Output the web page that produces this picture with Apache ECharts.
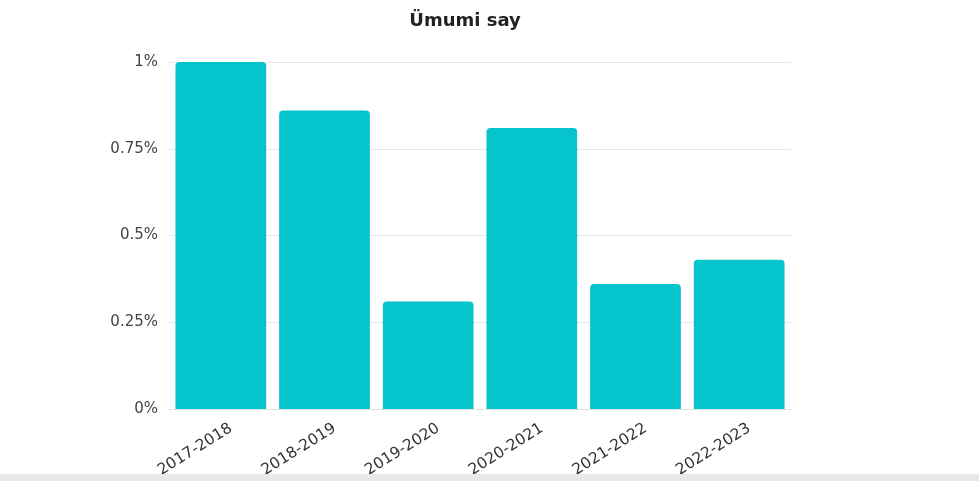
<!DOCTYPE html>
<html><head><meta charset="utf-8">
<script src="https://cdn.jsdelivr.net/npm/echarts@6/dist/echarts.min.js"></script>
<style>html,body{margin:0;padding:0;background:#fff}#c{width:979px;height:481px}</style>
</head><body><div id="c"></div>
<script>
const categories = ['2017-2018','2018-2019','2019-2020','2020-2021','2021-2022','2022-2023'];
const values = [1.0, 0.86, 0.31, 0.81, 0.36, 0.43];
const yTicks = [0, 0.25, 0.5, 0.75, 1];
const chart = echarts.init(document.getElementById('c'));
chart.setOption({
  animation: false,
  title: {text: 'Ümumi say', left: 460, textAlign: 'center', top: 7, textStyle: {fontFamily: 'DejaVu Sans', fontSize: 18, fontWeight: 'bold', color: '#222'}},
  graphic: [{type: 'rect', z: 100, shape: {x: 0, y: 474, width: 979, height: 7}, style: {fill: '#e9e9ea'}, silent: true}],
  grid: {left: 169, right: 188, top: 62, bottom: 72},
  xAxis: {type: 'category', data: categories,
    axisLine: {lineStyle: {color: '#e0e0e0'}}, axisTick: {show: false},
    axisLabel: {rotate: 32, color: '#333', fontFamily: 'DejaVu Sans', fontSize: 15.5, margin: 15, interval: 0,
      verticalAlign: 'top', padding: [0, -7, 0, 0]}},
  yAxis: {type: 'value', min: 0, max: 1, interval: 0.25,
    axisLine: {show: false}, axisTick: {show: false},
    splitLine: {lineStyle: {color: '#e6e6e6'}},
    axisLabel: {color: '#444', fontFamily: 'DejaVu Sans', fontSize: 15, margin: 11,
      formatter: v => yTicks.includes(v) ? (v + '%') : ''}},
  series: [{type: 'bar', data: values, barCategoryGap: '12.5%',
    itemStyle: {color: '#06c4cc', borderRadius: [4,4,0,0]}}]
});
</script></body></html>
